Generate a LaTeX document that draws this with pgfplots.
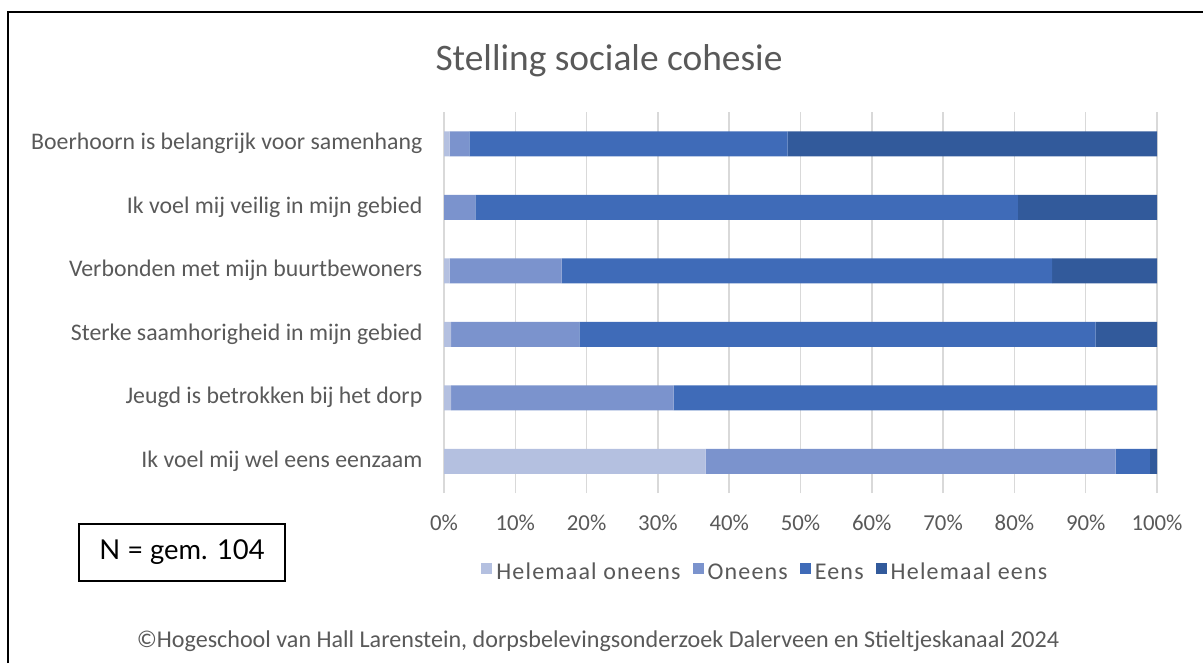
\documentclass[border=0pt]{standalone}
\usepackage{pgfplots}
\pgfplotsset{compat=1.18}
\usepackage{pgfplotstable}
\usepackage{fontspec}
\setmainfont{Carlito}
\newfontfamily\boxfont{Lato}
\newfontfamily\legfont[LetterSpace=5]{Carlito}

\definecolor{txt}{HTML}{595959}
\definecolor{grd}{HTML}{D9D9D9}
\definecolor{c1}{HTML}{B4C0E0}
\definecolor{c2}{HTML}{7B93CD}
\definecolor{c3}{HTML}{3F6BB8}
\definecolor{c4}{HTML}{325A9B}

% y=1 onderaan, y=6 bovenaan; waarden in procenten
\pgfplotstableread{
y hon on e he
1 36.7 57.5 4.8 1.0
2 1.0 31.2 67.8 0
3 1.0 18.0 72.4 8.6
4 0.8 15.7 68.8 14.7
5 0 4.4 76.1 19.5
6 0.8 2.75 44.65 51.8
}\data

\begin{document}
\begin{tikzpicture}
\path[use as bounding box] (0,0) rectangle (601.5pt,-331.5pt);
\draw[line width=1pt] (4pt,-331.5pt) -- (4pt,-6pt) -- (601.5pt,-6pt);
\node[text=txt,font=\fontsize{18.7}{22}\selectfont] at (304.5pt,-30.5pt) {Stelling sociale cohesie};

\begin{axis}[
    at={(222pt,-246.5pt)}, anchor=south west,
    scale only axis, width=356.5pt, height=190.5pt,
    xbar stacked, bar width=12.5pt,
    xmin=0, xmax=100, ymin=0.5, ymax=6.5,
    xtick={0,10,...,100},
    xticklabel={\pgfmathprintnumber{\tick}\%},
    /pgf/number format/assume math mode=true,
    ytick={1,...,6},
    yticklabels={Ik voel mij wel eens eenzaam,
                 Jeugd is betrokken bij het dorp,
                 Sterke saamhorigheid in mijn gebied,
                 Verbonden met mijn buurtbewoners,
                 Ik voel mij veilig in mijn gebied,
                 Boerhoorn is belangrijk voor samenhang},
    axis line style={draw=none}, major tick length=0pt,
    xmajorgrids, grid style={grd, line width=0.75pt},
    xticklabel style={font=\fontsize{11.4}{13}\selectfont, text=txt, yshift=-7.5pt},
    yticklabel style={font=\fontsize{11.9}{14}\selectfont, text=txt, xshift=-7.3pt},
    legend style={at={(0.452,-0.21)}, anchor=center, draw=none,
        legend columns=4, font=\legfont\fontsize{12}{14}\selectfont, text=txt,
        /tikz/every even column/.append style={column sep=4pt}},
    legend image code/.code={\fill[#1,draw=none] (0pt,-0.5pt) rectangle (5.5pt,5pt);},
]
\addplot[fill=c1, draw=none] table[x=hon, y=y] {\data};
\addlegendentry{Helemaal oneens}
\addplot[fill=c2, draw=none] table[x=on, y=y] {\data};
\addlegendentry{Oneens}
\addplot[fill=c3, draw=none] table[x=e, y=y] {\data};
\addlegendentry{Eens}
\addplot[fill=c4, draw=none] table[x=he, y=y] {\data};
\addlegendentry{Helemaal eens}
\end{axis}

\node[draw=black, line width=0.6pt, minimum width=103pt, minimum height=28.5pt,
      font=\boxfont\fontsize{13.7}{16}\selectfont] at (91pt,-276.25pt) {N = gem. 104};
\node[text=txt, font=\fontsize{12.05}{14}\selectfont] at (299pt,-320.5pt)
    {©Hogeschool van Hall Larenstein, dorpsbelevingsonderzoek Dalerveen en Stieltjeskanaal 2024};
\end{tikzpicture}
\end{document}
